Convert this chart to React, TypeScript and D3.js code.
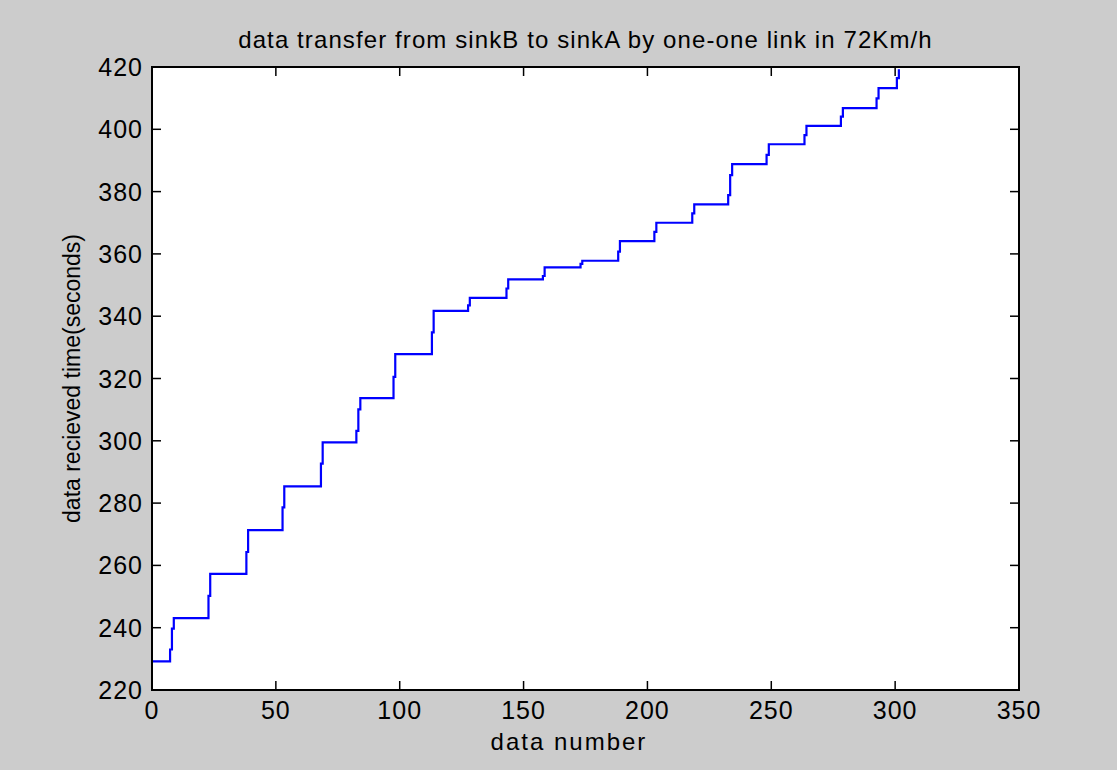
import React, { useEffect, useRef } from "react";
import * as d3 from "d3";

const dataNumber = [
  0, 7.3, 8.05, 8.8, 22.8, 23.5, 38.1, 38.8, 52.7, 53.4, 68.2, 68.9,
  82.5, 83.3, 84.1, 97.5, 98.2, 113, 113.7, 127.6, 128.3, 143.1, 143.8,
  157.8, 158.5, 173, 173.7, 188.2, 188.9, 202.8, 203.6, 218.1, 218.9,
  232.6, 233.4, 234.2, 248.1, 249, 263.4, 264.2, 278.1, 278.9, 292.5,
  293.3, 300.7, 301.5,
];
const recvTime = [
  229.2, 233, 239.7, 243.1, 250.2, 257.3, 264.3, 271.3, 278.6, 285.4, 292.7, 299.5,
  303.2, 310.1, 313.7, 320.5, 327.8, 334.8, 341.7, 343.5, 345.9, 348.9, 351.8,
  352.9, 355.7, 356.8, 357.8, 360.7, 364.1, 367.1, 370, 373, 375.9,
  378.9, 385.3, 388.8, 391.8, 395.2, 398.1, 401.1, 404.1, 406.8, 409.9,
  413.2, 416.4, 419.3,
];

const xTicks = [0, 50, 100, 150, 200, 250, 300, 350];
const yTicks = [220, 240, 260, 280, 300, 320, 340, 360, 380, 400, 420];

const titleText = "data transfer from sinkB to sinkA by one-one link in 72Km/h";
const xLabel = "data number";
const yLabel = "data recieved time(seconds)";

const App = () => {
  const svgRef = useRef<SVGSVGElement>(null);

  useEffect(() => {
    document.body.style.margin = "0";
    const width = 1117;
    const height = 770;
    const margin = { top: 67, right: 98, bottom: 80, left: 152 };
    const font = "Arial, 'Liberation Sans', sans-serif";

    const svg = d3.select(svgRef.current);
    svg.selectAll("*").remove();
    svg.attr("width", width).attr("height", height);

    svg.append("rect").attr("width", width).attr("height", height).attr("fill", "#cccccc");

    const x = d3.scaleLinear().domain([0, 350]).range([margin.left, width - margin.right]);
    const y = d3.scaleLinear().domain([220, 420]).range([height - margin.bottom, margin.top]);

    // axes box
    svg.append("rect")
      .attr("x", x(0)).attr("y", y(420))
      .attr("width", x(350) - x(0)).attr("height", y(220) - y(420))
      .attr("fill", "#ffffff");

    const tickLen = 9;
    const ticks = svg.append("g").attr("stroke", "#000").attr("stroke-width", 1.5);
    xTicks.forEach((t) => {
      ticks.append("line").attr("x1", x(t)).attr("x2", x(t)).attr("y1", y(220)).attr("y2", y(220) - tickLen);
      ticks.append("line").attr("x1", x(t)).attr("x2", x(t)).attr("y1", y(420)).attr("y2", y(420) + tickLen);
    });
    yTicks.forEach((t) => {
      ticks.append("line").attr("x1", x(0)).attr("x2", x(0) + tickLen).attr("y1", y(t)).attr("y2", y(t));
      ticks.append("line").attr("x1", x(350)).attr("x2", x(350) - tickLen).attr("y1", y(t)).attr("y2", y(t));
    });

    // staircase line
    const line = d3.line<number>()
      .x((_, i) => x(dataNumber[i]))
      .y((d) => y(d))
      .curve(d3.curveStepAfter);

    svg.append("path")
      .datum(recvTime)
      .attr("d", line)
      .attr("fill", "none")
      .attr("stroke", "#0000ff")
      .attr("stroke-width", 2.2);

    svg.append("rect")
      .attr("x", x(0)).attr("y", y(420))
      .attr("width", x(350) - x(0)).attr("height", y(220) - y(420))
      .attr("fill", "none").attr("stroke", "#000").attr("stroke-width", 2);

    // tick labels
    svg.append("g").selectAll("text").data(xTicks).enter().append("text")
      .attr("x", (d) => x(d)).attr("y", y(220) + 29)
      .attr("text-anchor", "middle")
      .attr("font-family", font).attr("font-size", 25).attr("letter-spacing", 1).attr("fill", "#000")
      .text((d) => d);

    svg.append("g").selectAll("text").data(yTicks).enter().append("text")
      .attr("x", x(0) - 9).attr("y", (d) => y(d) + 9)
      .attr("text-anchor", "end")
      .attr("font-family", font).attr("font-size", 25).attr("letter-spacing", 1).attr("fill", "#000")
      .text((d) => d);

    // labels
    svg.append("text")
      .attr("x", (x(0) + x(350)) / 2).attr("y", 48)
      .attr("text-anchor", "middle")
      .attr("font-family", font).attr("font-size", 24).attr("letter-spacing", 1.1).attr("fill", "#000")
      .text(titleText);

    svg.append("text")
      .attr("x", 569).attr("y", 750)
      .attr("text-anchor", "middle")
      .attr("font-family", font).attr("font-size", 24).attr("letter-spacing", 2).attr("fill", "#000")
      .text(xLabel);

    svg.append("text")
      .attr("transform", `translate(80, ${(y(220) + y(420)) / 2}) rotate(-90)`)
      .attr("text-anchor", "middle")
      .attr("font-family", font).attr("font-size", 23).attr("fill", "#000")
      .text(yLabel);
  }, []);

  return <svg ref={svgRef} style={{ display: "block" }}></svg>;
};

export default App;
